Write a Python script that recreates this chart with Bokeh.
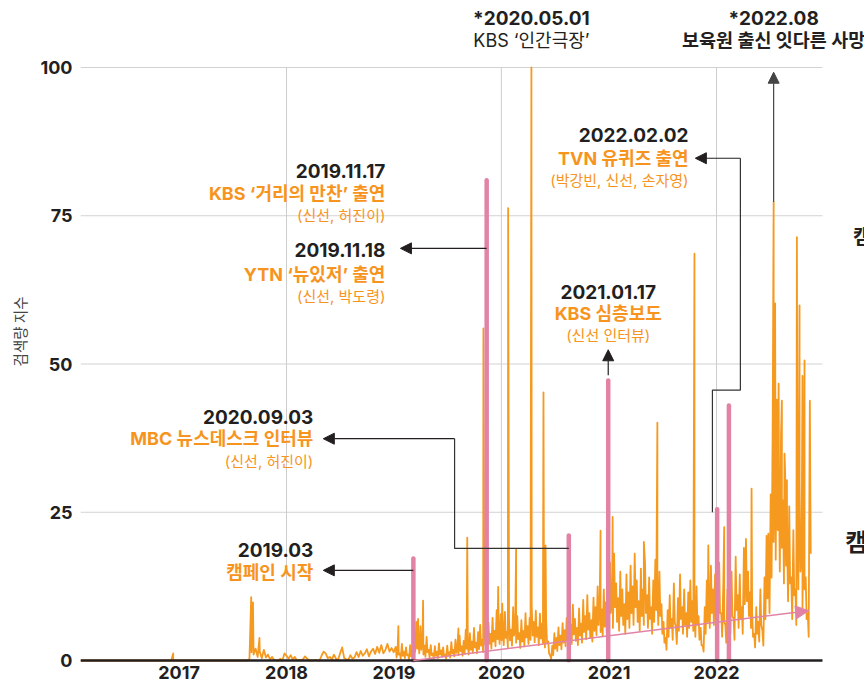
import pandas as pd
from bokeh.plotting import figure
from bokeh.models import (ColumnDataSource, FixedTicker, DatetimeTickFormatter, Label,
                          Arrow, NormalHead, Range1d)
from bokeh.embed import file_html
from bokeh.resources import INLINE

# ---------------- data ----------------
WEEK_START = "2016-02-01"   # weekly search-index values start here

# weekly upper values
base_2016_17 = [
    0, 0, 0, 0, 0, 0, 0, 0, 0, 0,
    0, 0, 0, 0, 0, 0, 0, 0, 0, 0,
    0, 0, 0, 0, 0, 0, 0, 0, 0, 0,
    0, 0, 0, 0, 0, 0, 0, 0, 0, 0,
    0, 0, 0, 0, 0, 0, 0, 0, 0, 0,
    0, 0, 0, 0, 0, 0, 0, 0, 0, 0,
    0, 0, 0, 0, 0, 0, 0, 0, 0, 0,
    0, 0, 0, 0, 0, 0, 0, 0, 0, 0,
    0, 0, 0.3, 1.4, 1.0, 2.0, 0.6, 1.5, 0.4, 1.8,
    0.5, 1.0, 0.2, 0.6, 0.1, 0, 0, 0.3, 0, 1.2,
]
base_2018 = [
    0.8, 0.3, 0.9, 0.2, 0.6, 0, 0.1, 0, 0.2, 0.7,
    0.3, 0, 0, 0, 0.1, 0, 0, 0.8, 1.5, 1.2,
    0.4, 0.6, 0.2, 1.0, 0.3, 0.1, 1.2, 2.2, 0.4, 0.2,
    0.1, 0.9, 0.3, 0.5, 1.4, 0.6, 1.6, 0.8, 1.2, 1.9,
    0.7, 1.5, 2.0, 1.1, 2.3, 1.3, 2.6, 1.2, 1.8, 2.8,
    1.5, 2.1, 1.4,
]
base_2019 = [
    2.3, 2.5, 1.2, 2.8, 1.5, 2.2, 1.0, 2.6, 1.8, 4.5,
    6.5, 3.5, 5.8, 3.8, 2.5, 4.0, 1.8, 2.6, 1.2, 2.4,
    1.5, 2.9, 1.7, 2.2, 1.0, 2.5, 1.4, 3.1, 1.8, 3.5,
    2.6, 4.2, 2.4, 3.3, 5.2, 2.8, 4.6, 3.2, 5.5, 3.0,
    4.8, 6.0, 3.5, 5.8, 4.0, 6.4, 4.5, 7.2, 5.0, 8.5,
    5.6, 7.8,
]
base_2020 = [
    5.5, 8.2, 4.8, 7.0, 5.2, 9.0, 6.1, 7.5, 4.6, 6.8,
    5.0, 8.0, 5.8, 7.2, 9.5, 6.5, 8.4, 5.6, 7.9, 6.2,
    4.8, 6.9, 3.2, 0.8, 2.5, 4.6, 3.8, 5.6, 4.2, 6.3,
    5.1, 7.2, 8.6, 6.0, 9.4, 7.0, 5.5, 8.8, 6.2, 10.2,
    7.5, 11.0, 8.0, 6.8, 10.6, 9.0, 12.5, 10.0, 8.6, 12.0,
    9.8, 13.0,
]
base_2021 = [
    16.5, 11.0, 18.0, 13.0, 10.5, 15.0, 12.0, 9.5, 14.5, 11.5,
    16.0, 12.5, 18.0, 13.5, 10.0, 15.5, 12.0, 16.5, 11.0, 14.0,
    9.0, 13.5, 17.0, 12.0, 15.0, 9.5, 6.5, 3.8, 8.5, 11.0,
    7.0, 13.0, 5.5, 10.5, 14.5, 9.0, 12.0, 8.0, 11.5, 13.5,
    10.0, 8.5, 12.5, 7.5, 5.5, 2.5, 9.0, 13.5, 11.0, 16.0,
    12.0, 14.5,
]
base_2022 = [
    10.0, 16.5, 8.0, 13.0, 6.0, 12.0, 9.5, 15.0, 7.0, 17.5,
    11.0, 14.5, 9.0, 19.0, 20.5, 15.0, 11.5, 8.0, 4.5, 9.0,
    6.5, 12.0, 5.0, 14.0, 21.0, 16.0, 28.0, 42.0, 35.0, 44.0,
    30.0, 38.0, 27.0, 32.0, 20.0, 26.0, 14.0, 22.0, 12.0, 24.0,
    30.0, 18.0, 24.0, 14.0, 8.0,
]

# weekly lower values (mid-week), from the first week of 2019 on
LOW_START_WEEK = 153
low_2019 = [
    0.5, 1.0, 0.3, 0.8, 0.4, 0.9, 0.2, 0.7, 0.5, 1.5,
    2.0, 1.2, 1.8, 1.0, 0.6, 1.4, 0.5, 0.9, 0.3, 0.8,
    0.4, 1.0, 0.6, 0.8, 0.3, 0.9, 0.5, 1.2, 0.7, 1.3,
    0.9, 1.6, 0.8, 1.2, 2.0, 1.0, 1.8, 1.3, 2.2, 1.2,
    1.9, 2.5, 1.4, 2.6, 1.8, 2.8, 2.0, 3.2, 2.4, 3.6,
    2.8, 3.4,
]
low_2020 = [
    2.6, 3.8, 2.2, 3.4, 2.5, 4.2, 3.0, 3.6, 2.1, 3.2,
    2.4, 3.9, 2.8, 3.5, 4.2, 3.1, 4.0, 2.6, 3.7, 2.9,
    2.2, 3.1, 1.2, 0.3, 0.9, 2.0, 1.6, 2.6, 1.9, 3.0,
    2.4, 3.4, 4.1, 2.8, 4.4, 3.3, 2.6, 4.2, 3.0, 4.8,
    3.6, 5.2, 3.8, 3.2, 5.0, 4.3, 6.0, 4.8, 4.1, 5.7,
    4.6, 6.2,
]
low_2021 = [
    8.0, 5.5, 9.0, 6.5, 5.0, 7.5, 6.0, 4.5, 7.0, 5.5,
    8.0, 6.0, 9.0, 6.5, 5.0, 7.5, 6.0, 8.0, 5.5, 7.0,
    4.5, 6.5, 8.5, 6.0, 7.5, 4.5, 3.0, 1.8, 4.0, 5.5,
    3.5, 6.5, 2.8, 5.0, 7.0, 4.5, 6.0, 4.0, 5.5, 6.5,
    5.0, 4.0, 6.0, 3.5, 2.6, 1.5, 4.5, 6.5, 5.5, 8.0,
    6.0, 7.0,
]
low_2022 = [
    5.0, 8.0, 4.0, 6.5, 3.0, 6.0, 4.5, 7.5, 3.5, 8.5,
    5.5, 7.0, 4.5, 9.5, 10.0, 7.5, 5.5, 4.0, 2.2, 4.5,
    3.2, 6.0, 2.5, 7.0, 10.5, 8.0, 14.0, 20.0, 17.0, 22.0,
    15.0, 19.0, 13.0, 16.0, 10.0, 13.0, 7.0, 11.0, 6.0, 12.0,
    15.0, 9.0, 12.0, 7.0, 4.0,
]

# single-day peaks
spike_dates = [
    "2016-12-12", "2017-09-03", "2017-09-09", "2017-10-01", "2019-01-16",
    "2019-03-24", "2019-04-10", "2019-08-08", "2019-09-07", "2019-11-01",
    "2019-12-21", "2020-01-04", "2020-01-24", "2020-02-20", "2020-04-12",
    "2020-05-23", "2020-05-30", "2020-12-03", "2021-01-13", "2021-04-29",
    "2021-06-14", "2021-10-18", "2021-12-04", "2022-01-27", "2022-04-30",
    "2022-06-26", "2022-07-14", "2022-07-19", "2022-07-31", "2022-08-11",
    "2022-08-20", "2022-08-28", "2022-10-01", "2022-10-10", "2022-10-20",
    "2022-10-27", "2022-11-14", "2022-11-17",
]
spike_values = [
    1.2, 10.7, 9.8, 3.8, 5.8,
    7.0, 10.1, 5.4, 20.7, 56.0,
    12.4, 9.6, 76.3, 18.8, 100.0,
    45.2, 19.4, 21.9, 24.2, 20.0,
    40.1, 68.6, 19.4, 22.5, 29.0,
    21.4, 77.3, 60.2, 46.7, 43.8,
    34.9, 30.4, 71.4, 59.9, 48.0,
    50.6, 43.8, 18.0,
]

# media events (pink bars)
event_dates = ["2019-03-08", "2019-11-12", "2020-08-17", "2020-12-29", "2022-01-03", "2022-02-12"]
event_values = [17.2, 81.0, 21.1, 47.2, 25.5, 43.0]

# trend arrow after the campaign
trend_dates = ["2019-03-08", "2022-11-10"]
trend_values = [0.0, 8.4]

year_ticks = ["2017-01-01", "2018-01-01", "2019-01-01", "2020-01-01", "2021-01-01", "2022-01-01"]
grid_years = ["2018-01-01", "2020-01-01", "2022-01-01"]
y_ticks = [0, 25, 50, 75, 100]
X_START, X_END = "2016-02-01", "2022-12-27"   # plotted window

# ---------------- build ----------------
ORANGE = "#F6991F"
TXT_OR = "#F7941D"
PINK = "#E283A6"
DARK = "#231F20"
KR = "Noto Sans CJK KR"
MIX = "Inter, 'Noto Sans CJK KR'"
NUM = "Inter"


def ms(d):
    return pd.Timestamp(d).value / 1e6


weekly = base_2016_17 + base_2018 + base_2019 + base_2020 + base_2021 + base_2022
lows = low_2019 + low_2020 + low_2021 + low_2022
wdates = pd.date_range(WEEK_START, periods=len(weekly), freq="7D")
ldates = wdates[LOW_START_WEEK:LOW_START_WEEK + len(lows)] + pd.Timedelta(days=3)
df = pd.concat([
    pd.DataFrame({"date": wdates, "v": weekly}),
    pd.DataFrame({"date": ldates, "v": lows}),
    pd.DataFrame({"date": pd.to_datetime(spike_dates), "v": spike_values}),
]).sort_values("date").reset_index(drop=True)
src = ColumnDataSource(df)

ev = ColumnDataSource(dict(d=pd.to_datetime(event_dates), v=event_values,
                           z=[0] * len(event_values)))

# frame geometry: data window spans 742px, canvas extends 42px further right / 67px above 100
W, H = 864, 689
LEFT, PLOT_W, RIGHT_EXTRA = 80, 742, 42
TOP_EXTRA, PX_PER_UNIT, BOTTOM_PAD = 67, 5.93, 2
ms_per_px = (ms(X_END) - ms(X_START)) / PLOT_W
x_range = Range1d(ms(X_START), ms(X_END) + RIGHT_EXTRA * ms_per_px)
y_range = Range1d(-BOTTOM_PAD / PX_PER_UNIT, 100 + TOP_EXTRA / PX_PER_UNIT)

p = figure(width=W, height=H, x_axis_type="datetime", output_backend="svg",
           toolbar_location=None, x_range=x_range, y_range=y_range,
           min_border_left=LEFT, min_border_right=0, min_border_top=0, min_border_bottom=27)
p.outline_line_color = None
p.background_fill_color = "white"
p.border_fill_color = "white"
p.xgrid.visible = False
p.ygrid.visible = False

# axes
p.yaxis.ticker = FixedTicker(ticks=y_ticks)
p.yaxis.axis_line_color = None
p.yaxis.major_tick_line_color = None
p.yaxis.minor_tick_line_color = None
p.yaxis.major_tick_out = 0
p.yaxis.minor_tick_out = 0
p.yaxis.major_label_text_font = NUM
p.yaxis.major_label_text_font_style = "bold"
p.yaxis.major_label_text_font_size = "18px"
p.yaxis.major_label_text_color = DARK
p.yaxis.major_label_standoff = 8
p.yaxis.axis_label = "검색량 지수"
p.yaxis.axis_label_text_font = KR
p.yaxis.axis_label_text_font_style = "normal"
p.yaxis.axis_label_text_font_size = "14.5px"
p.yaxis.axis_label_text_color = "#444444"
p.yaxis.axis_label_standoff = 7

p.xaxis.ticker = FixedTicker(ticks=[ms(t) for t in year_ticks])
p.xaxis.formatter = DatetimeTickFormatter(years="%Y", months="%Y", days="%Y", hours="%Y")
p.xaxis.axis_line_color = None
p.xaxis.major_tick_line_color = None
p.xaxis.minor_tick_line_color = None
p.xaxis.major_tick_out = 0
p.xaxis.minor_tick_out = 0
p.xaxis.major_label_text_font = NUM
p.xaxis.major_label_text_font_style = "bold"
p.xaxis.major_label_text_font_size = "18px"
p.xaxis.major_label_text_color = DARK
p.xaxis.major_label_standoff = 3

# grid lines limited to the data window
gy = [t for t in y_ticks if t > 0]
p.segment(x0=[pd.Timestamp(X_START)] * len(gy), x1=[pd.Timestamp(X_END)] * len(gy),
          y0=gy, y1=gy, color="#D2D2D2", line_width=1)
p.segment(x0=pd.to_datetime(grid_years), x1=pd.to_datetime(grid_years),
          y0=[0] * len(grid_years), y1=[100] * len(grid_years), color="#CDCDCD", line_width=1)

# series
p.line("date", "v", source=src, color=ORANGE, line_width=1.8, line_join="round")
p.segment(x0="d", y0="z", x1="d", y1="v", source=ev, color=PINK, line_width=4.5, line_cap="round")

# baseline (x axis line)
p.segment(x0=[pd.Timestamp(X_START)], x1=[pd.Timestamp(X_END)], y0=[0], y1=[0],
          color=DARK, line_width=2.5)

# trend arrow
p.add_layout(Arrow(end=NormalHead(size=13, fill_color=PINK, line_color=PINK),
                   x_start=ms(trend_dates[0]), y_start=trend_values[0],
                   x_end=ms(trend_dates[1]), y_end=trend_values[1],
                   line_color=PINK, line_width=1.5))


def label(x, y, text, size, color=DARK, bold=True, align="right", font=MIX):
    p.add_layout(Label(x=ms(x), y=y, text=text, text_font=font, text_font_size=f"{size}px",
                       text_font_style="bold" if bold else "normal", text_color=color,
                       text_align=align, text_baseline="middle"))


def arrow(x0, y0, x1, y1, color=DARK, size=11, lw=1.2):
    p.add_layout(Arrow(end=NormalHead(size=size, fill_color=color, line_color=color),
                       x_start=ms(x0), y_start=y0, x_end=ms(x1), y_end=y1,
                       line_color=color, line_width=lw))


def connector(xs, ys, color="#333333"):
    p.line([pd.Timestamp(x) for x in xs], ys, color=color, line_width=1.2)


# 2019.11.17 / 2019.11.18
label("2018-12-03", 82.5, "2019.11.17", 19, font=NUM)
label("2018-12-03", 78.8, "KBS ‘거리의 만찬’ 출연", 18, TXT_OR)
label("2018-12-03", 75.0, "(신선, 허진이)", 15, TXT_OR, bold=False)
label("2018-12-03", 69.3, "2019.11.18", 19, font=NUM)
label("2018-12-03", 65.1, "YTN ‘뉴있저’ 출연", 18, TXT_OR)
label("2018-12-03", 61.4, "(신선, 박도령)", 15, TXT_OR, bold=False)
arrow(event_dates[1], 69.5, "2019-01-23", 69.5)

# 2020.09.03
label("2018-04-02", 41.1, "2020.09.03", 19, font=NUM)
label("2018-04-02", 37.4, "MBC 뉴스데스크 인터뷰", 18, TXT_OR)
label("2018-04-02", 33.6, "(신선, 허진이)", 15, TXT_OR, bold=False)
connector([event_dates[2], "2019-07-26", "2019-07-26"], [18.9, 18.9, 37.4])
arrow("2019-07-26", 37.4, "2018-05-06", 37.4)

# 2019.03
label("2018-04-02", 18.7, "2019.03", 19, font=NUM)
label("2018-04-02", 14.8, "캠페인 시작", 18, TXT_OR)
arrow(event_dates[0], 15.2, "2018-05-06", 15.2)

# 2021.01.17
label(event_dates[3], 62.2, "2021.01.17", 19, align="center", font=NUM)
label(event_dates[3], 58.5, "KBS 심층보도", 18, TXT_OR, align="center")
label(event_dates[3], 54.8, "(신선 인터뷰)", 15, TXT_OR, bold=False, align="center")
arrow(event_dates[3], 48.1, event_dates[3], 52.4)

# 2022.02.02
label("2021-09-28", 88.7, "2022.02.02", 19, font=NUM)
label("2021-09-28", 84.7, "TVN 유퀴즈 출연", 18, TXT_OR)
label("2021-09-28", 80.9, "(박강빈, 신선, 손자영)", 15, TXT_OR, bold=False)
connector(["2021-12-18", "2021-12-18", "2022-03-23", "2022-03-23"], [25.0, 45.6, 45.6, 84.7])
arrow("2022-03-23", 84.7, "2021-10-21", 84.7)

# top notes
label("2020-04-12", 108.3, "*2020.05.01", 19, align="center", font=NUM)
label("2020-04-12", 104.6, "KBS ‘인간극장’", 18, bold=False, align="center")
label("2022-07-14", 108.3, "*2022.08", 19, align="center", font=NUM)
label("2022-07-14", 104.6, "보육원 출신 잇다른 사망", 18.5, align="center")
arrow("2022-07-14", 77.3, "2022-07-14", 99.2, color="#444444")

# cut-off side notes at the right edge (the reference shows them cut by the canvas)
label("2023-04-10", 71.7, "캠페인 이후", 20, align="left", font=KR)
label("2023-03-14", 20.2, "캠페인 이후", 24, align="left", font=KR)

with open("out.html", "w", encoding="utf-8") as f:
    f.write(file_html(p, INLINE))
